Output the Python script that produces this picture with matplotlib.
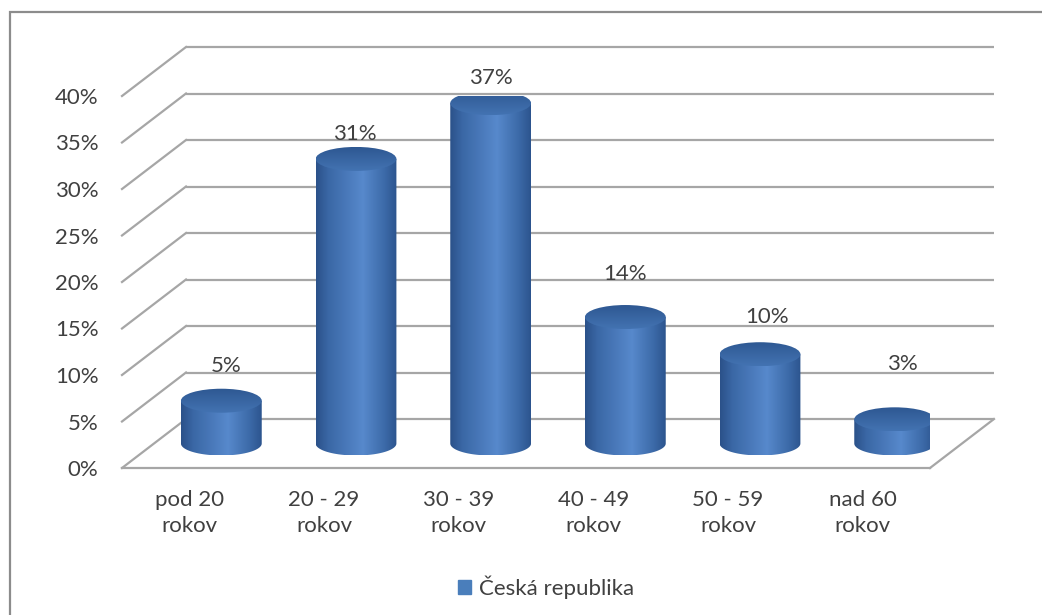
import numpy as np
import matplotlib.pyplot as plt
from matplotlib.path import Path
from matplotlib.patches import PathPatch, Ellipse, Patch, Rectangle
from matplotlib.colors import LinearSegmentedColormap

plt.rcParams['font.family'] = ['Lato', 'DejaVu Sans']

# ---- data ----
categories = ["pod 20\nrokov", "20 - 29\nrokov", "30 - 39\nrokov",
              "40 - 49\nrokov", "50 - 59\nrokov", "nad 60\nrokov"]
shares = [5, 31, 37, 14, 10, 3]
y_ticks = [0, 5, 10, 15, 20, 25, 30, 35, 40]
series_name = "Česká republika"

# label nudges in pixels (x, y) above each cylinder top
label_nudge = [(5, 23), (-1, 13), (0, 13), (0, 31), (7, 25), (8, 43)]

text_c = '#404040'
grid_c = '#a6a6a6'
fs = 16

fig = plt.figure(figsize=(10.42, 6.15), dpi=100)
ax = fig.add_axes([122 / 1042, (615 - 468) / 615, 808 / 1042, 372 / 615])
ax.set_facecolor('none')
for s in ax.spines.values():
    s.set_visible(False)

# depth of the 3D box, expressed in data units
DX = 64 / (808 / 6)
DY = 49 / (372 / 40)
x0, x1 = -0.5, len(categories) - 0.5

# back wall gridlines + diagonals on the side wall
for v in y_ticks:
    ax.plot([x0 + DX, x1 + DX], [v + DY, v + DY], color=grid_c, lw=1.6,
            clip_on=False, zorder=1, solid_capstyle='butt')
    ax.plot([x0, x0 + DX], [v, v + DY], color=grid_c, lw=1.6,
            clip_on=False, zorder=1)

# floor edges
ax.plot([x0, x1], [0, 0], color=grid_c, lw=1.6, clip_on=False, zorder=1)
ax.plot([x1, x1 + DX], [0, DY], color=grid_c, lw=1.6, clip_on=False, zorder=1)

body_cmap = LinearSegmentedColormap.from_list(
    'body', [(0, '#2b5189'), (0.15, '#3a67a5'), (0.58, '#5789cc'),
             (0.85, '#3c6aa8'), (1, '#2c548e')])
top_cmap = LinearSegmentedColormap.from_list(
    'top', ['#4373b2', '#2e5892'])

hw = 0.3          # cylinder half width
eh = 12 / 9.3     # ellipse semi-height in percent units
grad = np.linspace(0, 1, 256).reshape(1, -1)

for i, v in enumerate(shares):
    cx = i + DX / 2
    yb = DY / 2
    yt = v + DY / 2 - 0.4

    t = np.linspace(np.pi, 2 * np.pi, 60)
    verts = [(cx - hw, yt), (cx - hw, yb)]
    verts += list(zip(cx + hw * np.cos(t), yb + eh * np.sin(t)))
    verts += [(cx + hw, yt), (cx - hw, yt)]
    codes = [Path.MOVETO] + [Path.LINETO] * (len(verts) - 2) + [Path.CLOSEPOLY]
    body = PathPatch(Path(verts, codes), facecolor='none', edgecolor='none')
    ax.add_patch(body)
    im = ax.imshow(grad, cmap=body_cmap, aspect='auto', zorder=3,
                   extent=[cx - hw, cx + hw, yb - eh, yt], interpolation='bilinear')
    im.set_clip_path(body)

    top = Ellipse((cx, yt), 2 * hw, 2 * eh, facecolor='none', edgecolor='none')
    ax.add_patch(top)
    im2 = ax.imshow(np.linspace(0, 1, 64).reshape(-1, 1), cmap=top_cmap,
                    aspect='auto', zorder=4, origin='lower',
                    extent=[cx - hw, cx + hw, yt - eh, yt + eh],
                    interpolation='bilinear')
    im2.set_clip_path(top)

    nx, ny = label_nudge[i]
    ax.annotate(f"{v}%", xy=(cx, yt + eh), xytext=(nx, ny),
                textcoords='offset pixels', ha='center', va='center',
                fontsize=fs, color=text_c, zorder=5, annotation_clip=False)

ax.set_xlim(x0, x1)
ax.set_ylim(0, 40)
ax.set_yticks(y_ticks, [f"{v}%" for v in y_ticks])
ax.set_xticks(range(len(categories)), categories)
ax.tick_params(axis='y', length=0, pad=17, labelsize=fs, labelcolor=text_c)
ax.tick_params(axis='x', length=0, pad=16, labelsize=fs, labelcolor=text_c)
for lbl in ax.get_xticklabels():
    lbl.set_linespacing(1.35)

fig.legend(handles=[Patch(color='#4a7ebb', label=series_name)], loc='center',
           bbox_to_anchor=(546 / 1042, 1 - 587 / 615), frameon=False,
           fontsize=fs, labelcolor=text_c, handlelength=0.6,
           handleheight=0.6, handletextpad=0.35)

# chart area border (only top and left edges fall inside the canvas)
fig.add_artist(Rectangle((10 / 1042, -0.5), 2, (1 - 12 / 615) + 0.5,
                         transform=fig.transFigure, fill=False,
                         edgecolor='#8c8c8c', lw=1.6))

fig.savefig('out.png', dpi=100)
